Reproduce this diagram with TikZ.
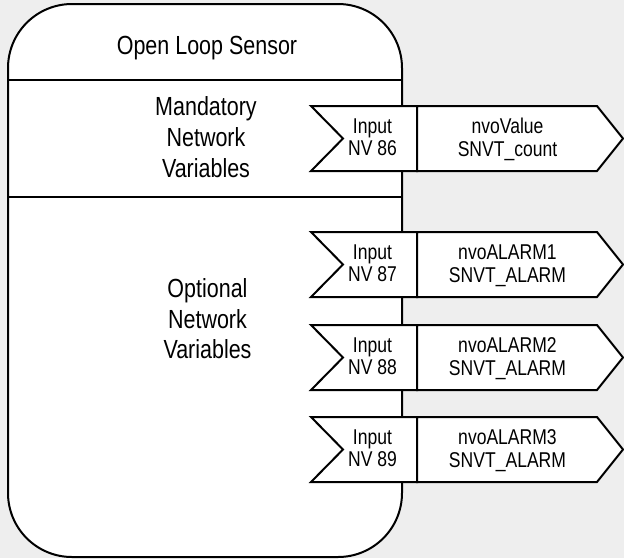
\documentclass[tikz,border=0pt]{standalone}
\usepackage{fontspec}
\setmainfont{Liberation Sans}[FakeStretch=0.82]
\definecolor{bgcolor}{HTML}{EEEEEE}
\begin{document}
\begin{tikzpicture}[x=1pt,y=-1pt,line width=2pt,line join=miter,
  outline/.style={draw=black,fill=white},
  bigtxt/.style={font=\fontsize{26.2}{30.7}\selectfont,align=center,anchor=south,inner sep=0pt,text depth=0pt},
  smalltxt/.style={font=\fontsize{21.4}{22.7}\selectfont,align=center,anchor=south,inner sep=0pt,text depth=0pt}]
% page background
\fill[bgcolor] (0,0) rectangle (624,558);
\useasboundingbox (0,0) rectangle (624,558);

% sensor object outline and section dividers
\draw[outline,rounded corners=64pt] (8,4) rectangle (402,557);
\draw (8,80) -- (402,80);
\draw (8,197) -- (402,197);

\node[bigtxt] (title) at (207,55.7) {Open Loop Sensor};
\node[bigtxt] (mand) at (206,178.2) {Mandatory\\Network\\Variables};
\node[bigtxt] (opt) at (207.5,359.8) {Optional\\Network\\Variables};

% network variable rows: input flag + output pointer
\foreach \ry/\nv/\vname/\vtype in {106/86/nvoValue/SNVT\_count,
                                   232/87/nvoALARM1/SNVT\_ALARM,
                                   325/88/nvoALARM2/SNVT\_ALARM,
                                   417/89/nvoALARM3/SNVT\_ALARM}{
  \draw[outline] (311,\ry) -- (417,\ry) -- (417,\ry+65) -- (311,\ry+65) -- (343,\ry+32.5) -- cycle;
  \draw[outline] (417,\ry) -- (597,\ry) -- (623,\ry+32.5) -- (597,\ry+65) -- (417,\ry+65) -- cycle;
  \node[smalltxt] (in\nv) at (372.5,\ry+50.7) {Input\\NV \nv};
  \node[smalltxt] (out\nv) at (507.5,\ry+51.3) {\vname\\\vtype};
}
\end{tikzpicture}
\end{document}
